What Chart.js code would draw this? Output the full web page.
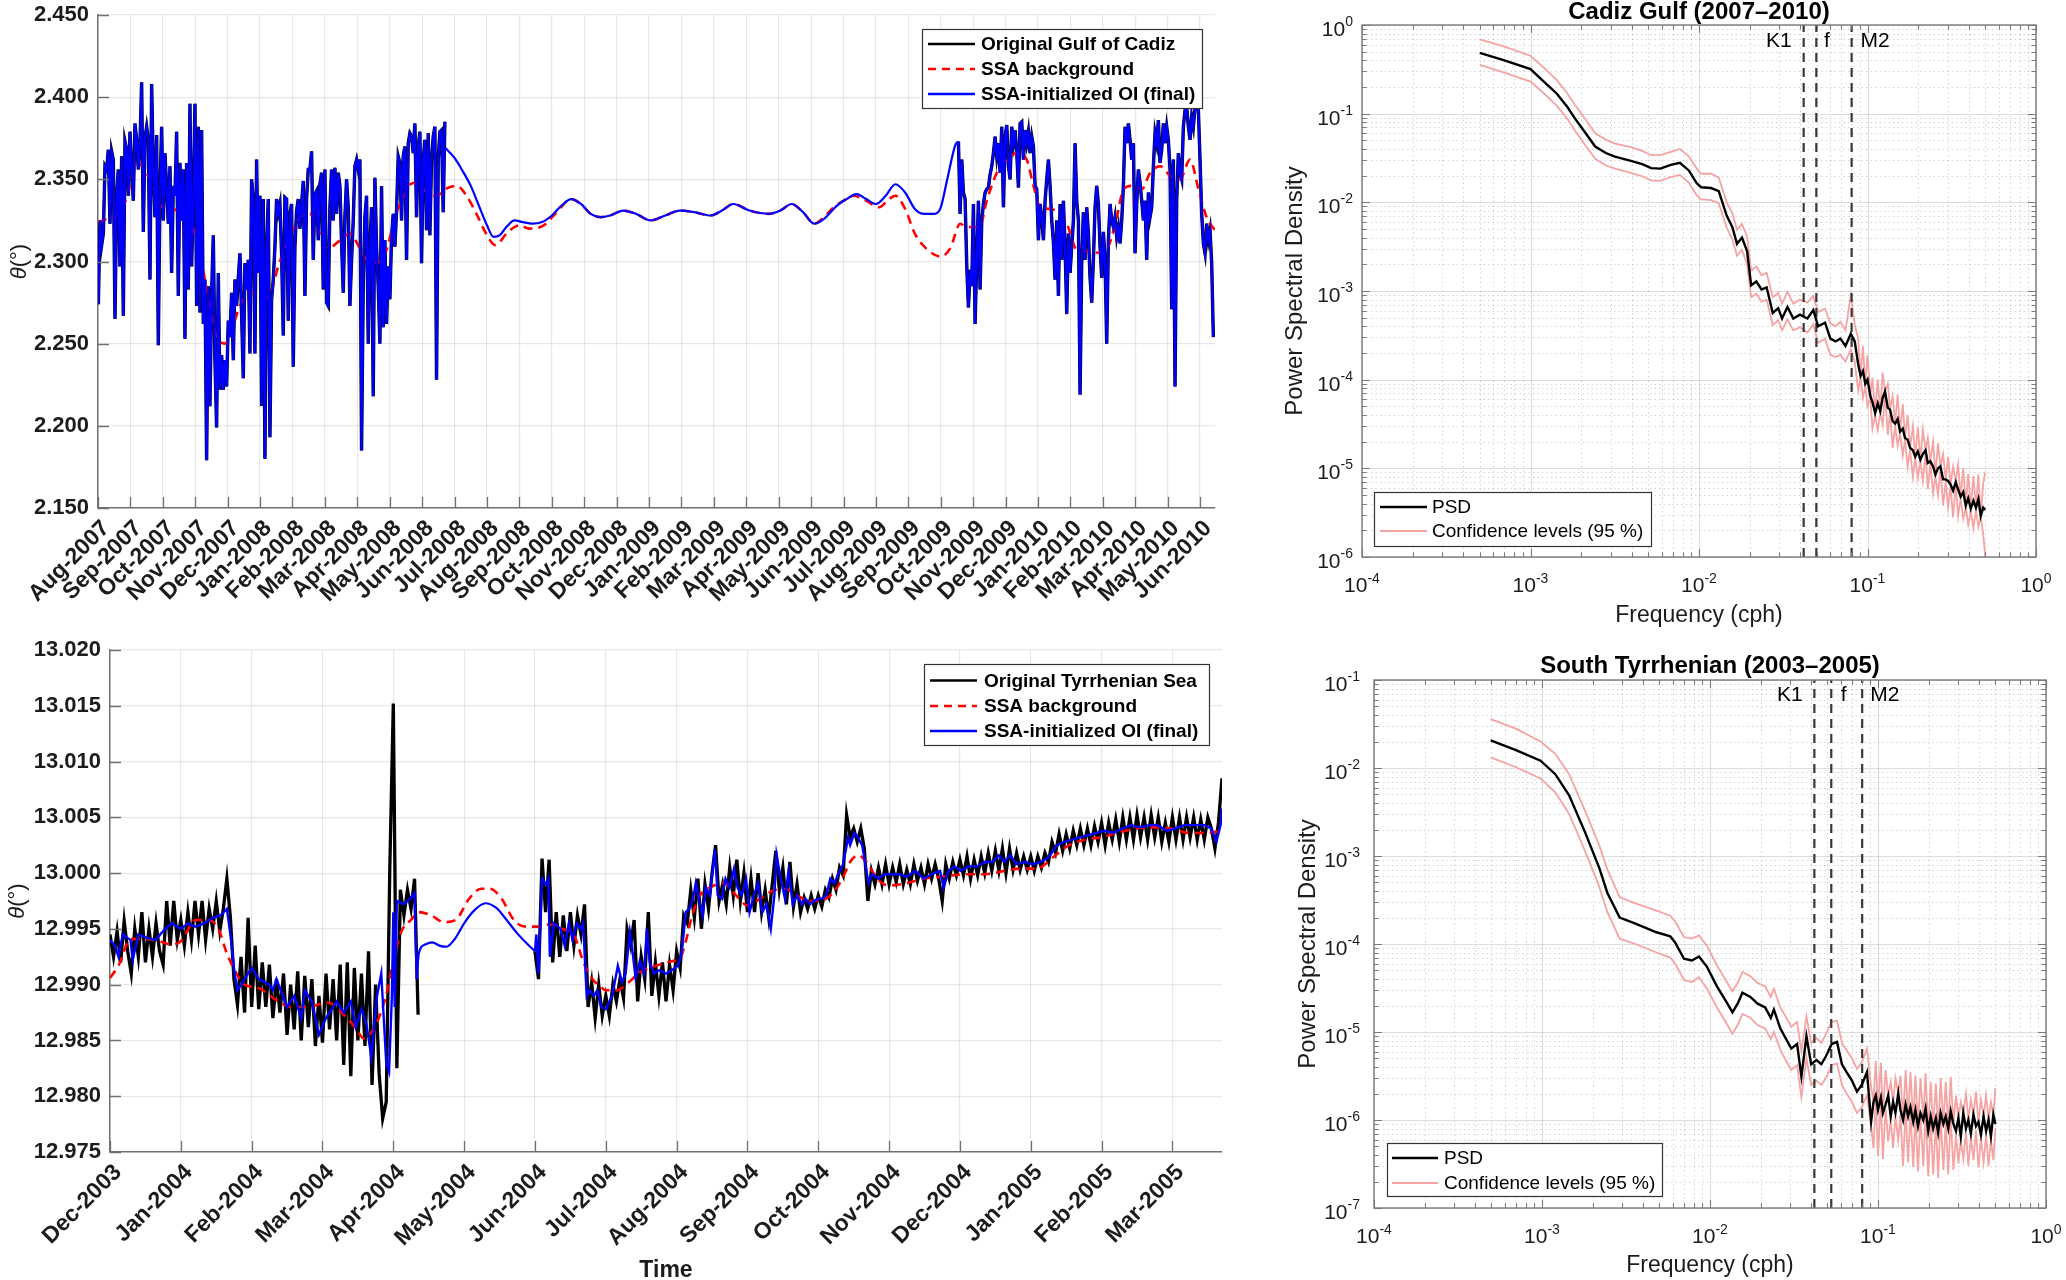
<!DOCTYPE html>
<html><head><meta charset="utf-8">
<script src="https://cdn.jsdelivr.net/npm/chart.js@4.4.1/dist/chart.umd.min.js"></script>
<style>
html,body{margin:0;padding:0;background:#fff;}
body{width:2066px;height:1280px;position:relative;overflow:hidden;}
canvas{position:absolute;}
</style></head><body>
<canvas id="cA" width="1250" height="640" style="left:0;top:0;width:1250px;height:640px"></canvas>
<canvas id="cB" width="1250" height="640" style="left:0;top:640px;width:1250px;height:640px"></canvas>
<canvas id="cC" width="816" height="640" style="left:1250px;top:0;width:816px;height:640px"></canvas>
<canvas id="cD" width="816" height="640" style="left:1250px;top:640px;width:816px;height:640px"></canvas>
<script>
// ---------------- DATA ----------------
// Gulf of Cadiz time series (x in months since Aug-2007)
const cadizMonths = ['Aug-2007','Sep-2007','Oct-2007','Nov-2007','Dec-2007','Jan-2008','Feb-2008','Mar-2008','Apr-2008','May-2008','Jun-2008','Jul-2008','Aug-2008','Sep-2008','Oct-2008','Nov-2008','Dec-2008','Jan-2009','Feb-2009','Mar-2009','Apr-2009','May-2009','Jun-2009','Jul-2009','Aug-2009','Sep-2009','Oct-2009','Nov-2009','Dec-2009','Jan-2010','Feb-2010','Mar-2010','Apr-2010','May-2010','Jun-2010'];
const cadizYTicks = [2.15, 2.20, 2.25, 2.30, 2.35, 2.40, 2.45];
const cadizStep = 0.0514;
const cadizObs1Start = 0.01;
const cadizObs1 = [
2.274,2.325,2.310,2.317,2.358,2.356,2.368,2.323,2.367,2.362,
2.265,2.340,2.356,2.297,2.364,2.267,2.373,2.368,2.340,2.379,
2.356,2.337,2.384,2.374,2.356,2.372,2.409,2.318,2.375,2.382,
2.374,2.289,2.408,2.356,2.327,2.377,2.249,2.342,2.382,2.325,
2.366,2.345,2.323,2.358,2.293,2.346,2.340,2.379,2.279,2.360,
2.325,2.356,2.253,2.360,2.283,2.396,2.297,2.338,2.396,2.273,
2.382,2.269,2.380,2.262,2.289,2.179,2.285,2.212,2.280,2.316,
2.240,2.199,2.293,2.222,2.243,2.222,2.240,2.224,2.264,2.254,
2.281,2.240,2.289,2.273,2.290,2.305,2.268,2.229,2.299,2.283,
2.301,2.244,2.350,2.338,2.244,2.362,2.293,2.340,2.212,2.338,
2.180,2.309,2.338,2.193,2.277,2.289,2.309,2.338,2.330,
2.335,2.305,2.255,2.339,2.338,2.264,2.329,2.335,2.236,2.309,
2.331,2.338,2.320,2.335,2.349,2.279,2.338,2.356,2.356,2.367,
2.301,2.341,2.343,2.313,2.347,2.354,2.283,2.356,2.275,2.273,
2.333,2.356,2.325,2.357,2.329,2.354,2.346,2.311,2.281,2.327,
2.350,2.333,2.273,2.301,2.325,2.358,2.362,2.356,2.362,2.185,
2.285,2.327,2.340,2.250,2.309,2.333,2.218,2.351,2.309,2.285,
2.250,2.346,2.260,2.313,2.262,2.297,2.277,2.315,2.329,2.309,
2.331,2.364,2.360,2.325,2.364,2.370,2.301,2.372,2.378,2.376,
2.366,2.384,2.327,2.370,2.379,2.299,2.362,2.374,2.319,2.378,
2.316,2.362,2.376,2.382,2.228,2.362,2.379,2.380,2.330,2.385];
const cadizObs2Start = 26.545;
const cadizObs2 = [
2.373,2.329,2.362,2.342,2.338,2.297,2.272,2.295,2.285,2.335,
2.262,2.301,2.337,2.283,2.325,2.335,2.342,2.344,2.345,2.353,
2.358,2.366,2.376,2.364,2.372,2.354,2.382,2.333,2.376,2.383,
2.358,2.350,2.382,2.372,2.380,2.366,2.345,2.384,2.385,2.362,
2.380,2.372,2.379,2.366,2.376,2.370,2.346,2.344,2.313,2.335,
2.327,2.313,2.337,2.350,2.362,2.346,2.325,2.312,2.289,2.325,
2.279,2.335,2.301,2.337,2.309,2.268,2.317,2.293,2.309,2.325,
2.372,2.337,2.325,2.219,2.300,2.330,2.301,2.333,2.317,2.290,
2.275,2.301,2.333,2.346,2.335,2.309,2.290,2.318,2.301,2.250,
2.313,2.335,2.325,2.321,2.327,2.315,2.321,2.311,2.325,2.346,
2.382,2.372,2.384,2.374,2.362,2.372,2.305,2.335,2.356,2.348,
2.337,2.325,2.337,2.301,2.342,2.327,2.333,2.358,2.378,2.372,
2.386,2.360,2.368,2.384,2.372,2.382,2.374,2.356,2.271,2.362,
2.224,2.337,2.366,2.354,2.350,2.382,2.392,2.394,2.382,2.374,
2.388,2.382,2.394,2.393,2.392,2.362,2.329,2.311,2.305,2.323,
2.313,2.319,2.299,2.254];
const cadizGapT = [10.72,11.0,11.25,11.5,11.75,12.0,12.2,12.4,12.6,12.85,13.1,13.4,13.7,14.0,14.3,14.6,14.9,15.2,15.5,15.8,16.2,16.6,17.05,17.5,17.95,18.4,18.9,19.25,19.6,20.1,20.7,21.05,21.4,21.75,22.1,22.4,22.8,23.1,23.4,23.7,24.0,24.3,24.6,24.9,25.2,25.5,25.8,26.0,26.2,26.45,26.545];
const cadizGapV = [2.369,2.363,2.355,2.346,2.334,2.322,2.315,2.316,2.321,2.325,2.324,2.323,2.324,2.328,2.334,2.338,2.335,2.329,2.327,2.328,2.331,2.329,2.325,2.328,2.331,2.330,2.328,2.331,2.335,2.331,2.329,2.331,2.335,2.330,2.323,2.326,2.334,2.338,2.341,2.338,2.335,2.340,2.347,2.342,2.332,2.329,2.329,2.333,2.350,2.371,2.373];
const cadizBgT = [0,0.3,0.6,0.9,1.1,1.3,1.6,2.0,2.5,2.94,3.2,3.35,3.64,3.92,4.07,4.38,4.74,5.05,5.31,5.56,5.8,5.95,6.25,6.54,6.8,7.1,7.47,7.77,8.08,8.29,8.6,8.9,9.16,9.37,9.63,9.88,10.14,10.45,10.71,11.07,11.4,11.7,12.0,12.25,12.65,13.0,13.3,13.75,14.15,14.6,14.9,15.2,15.5,15.8,16.2,16.6,17.05,17.5,17.95,18.4,18.9,19.25,19.6,20.1,20.7,21.05,21.4,21.75,22.1,22.4,22.7,23.0,23.3,23.7,24.1,24.35,24.6,24.9,25.2,25.6,26.0,26.29,26.6,26.8,27.2,27.42,27.73,28.04,28.35,28.65,28.86,29.07,29.37,29.68,29.89,30.2,30.6,30.97,31.17,31.43,31.64,31.89,32.2,32.46,32.77,33.08,33.38,33.69,33.95,34.2,34.46];
const cadizBgV = [2.324,2.326,2.328,2.340,2.355,2.359,2.350,2.333,2.331,2.320,2.300,2.283,2.256,2.250,2.255,2.273,2.281,2.277,2.280,2.297,2.310,2.317,2.327,2.329,2.319,2.308,2.313,2.317,2.308,2.301,2.299,2.307,2.327,2.337,2.347,2.348,2.342,2.340,2.344,2.346,2.339,2.328,2.316,2.310,2.318,2.322,2.320,2.322,2.330,2.338,2.335,2.329,2.327,2.328,2.331,2.329,2.325,2.328,2.331,2.330,2.328,2.331,2.335,2.331,2.329,2.331,2.335,2.330,2.323,2.327,2.333,2.337,2.340,2.337,2.333,2.337,2.340,2.332,2.317,2.307,2.303,2.308,2.323,2.321,2.321,2.337,2.354,2.362,2.366,2.362,2.346,2.333,2.332,2.329,2.323,2.307,2.306,2.305,2.309,2.327,2.344,2.346,2.344,2.354,2.358,2.352,2.350,2.362,2.344,2.327,2.319];

// Tyrrhenian Sea time series (x in months since Dec-2003)
const tyrMonths = ['Dec-2003','Jan-2004','Feb-2004','Mar-2004','Apr-2004','May-2004','Jun-2004','Jul-2004','Aug-2004','Sep-2004','Oct-2004','Nov-2004','Dec-2004','Jan-2005','Feb-2005','Mar-2005'];
const tyrYTicks = [12.975,12.980,12.985,12.990,12.995,13.000,13.005,13.010,13.015,13.020];
const tyrStep = 0.05;
const tyrObs1Start = 0.0;
const tyrObs1 = [
12.9945,12.9925,12.9948,12.9920,12.9957,12.9930,12.9910,12.9950,12.9925,12.9965,
12.9920,12.9950,12.9925,12.9955,12.9930,12.9918,12.9975,12.9935,12.9975,12.9940,
12.9958,12.9935,12.9965,12.9940,12.9975,12.9945,12.9975,12.9940,12.9968,12.9950,
12.9975,12.9948,12.9968,12.9995,12.9960,12.9905,12.9882,12.9925,12.9875,12.9960,
12.9880,12.9935,12.9878,12.9920,12.9880,12.9918,12.9870,12.9905,12.9875,12.9910,
12.9855,12.9900,12.9860,12.9912,12.9850,12.9908,12.9862,12.9905,12.9845,12.9890,
12.9848,12.9910,12.9860,12.9905,12.9850,12.9918,12.9828,12.9920,12.9818,12.9915,
12.9850,12.9910,12.9845,12.9930,12.9810,12.9900,12.9820,12.9780,12.9795,13.0003,
13.0152,12.9825,12.9985,12.9962,12.9985,12.9968,12.9995,12.9873];
const tyrObs2Start = 6.0;
const tyrObs2 = [
12.9930,12.9905,13.0013,12.9965,13.0012,12.9920,12.9965,12.9925,12.9962,12.9930,
12.9965,12.9935,12.9962,12.9945,12.9972,12.9880,12.9902,12.9870,12.9900,12.9872,
12.9890,12.9872,12.9900,12.9885,12.9905,12.9888,12.9950,12.9935,12.9958,12.9885,
12.9925,12.9905,12.9965,12.9890,12.9920,12.9890,12.9920,12.9885,12.9918,12.9895,
12.9930,12.9915,12.9962,12.9955,12.9985,12.9960,12.9995,12.9950,12.9990,12.9968,
13.0000,13.0025,12.9975,12.9990,12.9972,13.0005,12.9980,13.0012,12.9975,13.0000,
12.9965,12.9995,12.9965,13.0000,12.9965,12.9985,12.9960,12.9990,13.0020,12.9985,
13.0005,12.9972,13.0010,12.9970,12.9990,12.9965,12.9978,12.9968,12.9980,12.9968,
12.9980,12.9970,12.9985,12.9978,12.9995,12.9985,13.0005,12.9998,13.0052,13.0032,
13.0040,13.0028,13.0040,13.0022,12.9975,13.0002,12.9990,13.0005,12.9990,13.0008,
12.9990,13.0005,12.9992,13.0008,12.9990,13.0003,12.9990,13.0008,12.9993,13.0005,
12.9990,13.0008,12.9995,13.0008,12.9995,12.9975,13.0008,12.9995,13.0010,12.9998,
13.0012,12.9998,13.0015,12.9995,13.0012,12.9998,13.0015,13.0000,13.0018,13.0002,
13.0020,13.0002,13.0022,13.0000,13.0022,13.0003,13.0018,13.0003,13.0015,13.0003,
13.0015,13.0002,13.0015,13.0005,13.0018,13.0010,13.0028,13.0018,13.0035,13.0020,
13.0035,13.0022,13.0038,13.0025,13.0040,13.0025,13.0040,13.0025,13.0042,13.0028,
13.0045,13.0025,13.0045,13.0030,13.0048,13.0028,13.0050,13.0030,13.0050,13.0030,
13.0052,13.0032,13.0050,13.0030,13.0052,13.0032,13.0050,13.0028,13.0045,13.0028,
13.0050,13.0030,13.0050,13.0030,13.0050,13.0032,13.0050,13.0030,13.0048,13.0030,
13.0050,13.0040,13.0022,13.0045,13.0085];
const tyrOI1T = [0.00,0.07,0.12,0.18,0.29,0.32,0.40,0.52,0.64,0.75,0.87,1.00,1.10,1.20,1.33,1.45,1.56,1.65,1.70,1.76,1.80,1.90,2.00,2.10,2.25,2.30,2.35,2.50,2.60,2.70,2.75,2.85,2.95,3.05,3.20,3.30,3.40,3.47,3.55,3.62,3.69,3.77,3.83,3.90,3.94,3.98,4.00,4.02,4.05,4.15,4.22,4.30,4.33];
const tyrOI1V = [12.9940,12.9935,12.9925,12.9945,12.9940,12.9922,12.9945,12.9942,12.9940,12.9948,12.9955,12.9950,12.9955,12.9952,12.9955,12.9960,12.9962,12.9968,12.9945,12.9910,12.9895,12.9905,12.9915,12.9905,12.9900,12.9895,12.9905,12.9880,12.9890,12.9870,12.9895,12.9885,12.9855,12.9870,12.9885,12.9875,12.9885,12.9862,12.9878,12.9865,12.9835,12.9890,12.9910,12.9830,12.9822,12.9890,12.9965,12.9880,12.9975,12.9972,12.9976,12.9982,12.9905];
const tyrGapT = [4.33,4.36,4.45,4.55,4.65,4.75,4.88,5.00,5.15,5.30,5.45,5.60,5.75,5.90,6.00];
const tyrGapV = [12.9905,12.9928,12.9936,12.9938,12.9935,12.9934,12.9942,12.9955,12.9967,12.9973,12.9969,12.9958,12.9946,12.9936,12.9930];
const tyrOI2T = [6.00,6.02,6.05,6.10,6.16,6.19,6.21,6.27,6.36,6.42,6.48,6.53,6.59,6.65,6.68,6.73,6.77,6.83,6.88,6.94,7.00,7.09,7.17,7.23,7.28,7.34,7.38,7.42,7.48,7.54,7.58,7.62,7.68,7.76,7.85,7.93,8.02,8.07,8.13,8.19,8.24,8.27,8.33,8.37,8.41,8.47,8.54,8.58,8.64,8.69,8.75,8.81,8.86,8.92,8.98,9.03,9.09,9.15,9.21,9.27,9.33,9.38,9.41,9.47,9.53,9.58,9.64,9.70,9.77,9.82,9.88,9.94,10.00,10.06,10.11,10.17,10.23,10.28,10.34,10.39,10.42,10.45,10.51,10.56,10.62,10.68,10.71,10.76,10.85,10.93,11.02,11.13,11.25,11.37,11.49,11.60,11.72,11.77,11.84,11.92,12.01,12.12,12.24,12.35,12.46,12.55,12.63,12.71,12.80,12.92,13.03,13.14,13.25,13.37,13.48,13.59,13.70,13.81,13.93,14.04,14.17,14.29,14.42,14.54,14.67,14.79,14.92,15.04,15.17,15.29,15.45,15.55,15.62,15.68,15.70];
const tyrOI2V = [12.9930,12.9945,12.9910,12.9995,12.9990,12.9995,12.9925,12.9955,12.9950,12.9935,12.9955,12.9940,12.9955,12.9950,12.9955,12.9890,12.9895,12.9890,12.9895,12.9880,12.9878,12.9890,12.9917,12.9902,12.9910,12.9947,12.9928,12.9906,12.9921,12.9910,12.9950,12.9920,12.9910,12.9913,12.9910,12.9913,12.9917,12.9928,12.9965,12.9969,12.9980,12.9991,12.9972,12.9962,12.9987,12.9980,13.0021,12.9980,12.9977,12.9995,12.9987,13.0004,12.9987,12.9980,12.9995,12.9965,12.9980,12.9991,12.9965,12.9972,12.9950,12.9980,13.0017,12.9995,12.9977,13.0002,12.9972,12.9980,12.9972,12.9977,12.9972,12.9975,12.9977,12.9977,12.9980,12.9995,12.9991,12.9999,13.0006,13.0021,13.0032,13.0025,13.0036,13.0032,13.0025,13.0002,12.9991,12.9999,12.9995,12.9999,12.9999,12.9999,12.9997,13.0002,12.9995,12.9999,13.0002,12.9987,13.0002,13.0006,13.0002,13.0006,13.0006,13.0010,13.0010,13.0016,13.0010,13.0016,13.0008,13.0010,13.0008,13.0010,13.0014,13.0025,13.0028,13.0030,13.0032,13.0034,13.0036,13.0038,13.0036,13.0040,13.0043,13.0041,13.0043,13.0043,13.0038,13.0040,13.0043,13.0043,13.0043,13.0040,13.0028,13.0043,13.0058];
const tyrBgT = [0.00,0.12,0.29,0.46,0.69,0.87,1.00,1.21,1.39,1.53,1.65,1.76,1.90,2.10,2.33,2.56,2.79,3.07,3.30,3.47,3.58,3.76,3.90,4.00,4.11,4.25,4.36,4.54,4.71,4.88,5.07,5.24,5.36,5.53,5.70,5.87,6.04,6.21,6.39,6.56,6.68,6.80,6.91,7.00,7.15,7.32,7.48,7.71,7.93,8.05,8.13,8.22,8.33,8.50,8.67,8.84,9.00,9.18,9.35,9.53,9.70,9.88,10.00,10.17,10.34,10.45,10.56,10.68,10.79,10.90,11.02,11.25,11.49,11.78,12.07,12.35,12.63,12.86,13.09,13.31,13.54,13.76,13.98,14.22,14.48,14.73,14.98,15.23,15.48,15.70];
const tyrBgV = [12.9906,12.9917,12.9941,12.9941,12.9939,12.9936,12.9939,12.9958,12.9958,12.9950,12.9928,12.9913,12.9900,12.9897,12.9887,12.9880,12.9880,12.9884,12.9873,12.9861,12.9852,12.9865,12.9891,12.9921,12.9947,12.9958,12.9965,12.9962,12.9956,12.9958,12.9977,12.9986,12.9986,12.9977,12.9958,12.9952,12.9952,12.9954,12.9950,12.9943,12.9921,12.9906,12.9899,12.9895,12.9895,12.9902,12.9911,12.9917,12.9921,12.9924,12.9939,12.9962,12.9980,12.9988,12.9991,12.9980,12.9971,12.9977,12.9984,12.9986,12.9980,12.9975,12.9975,12.9980,12.9995,13.0010,13.0016,13.0010,12.9999,12.9991,12.9989,12.9991,12.9995,12.9997,12.9999,12.9999,13.0002,13.0004,13.0004,13.0014,13.0025,13.0030,13.0032,13.0036,13.0040,13.0041,13.0040,13.0036,13.0036,13.0038];

// Spectra (frequency in cph)
const cadizFreq = [5e-4,7e-4,1e-3,1.2e-3,1.43e-3,1.65e-3,1.83e-3,2.1e-3,2.42e-3,2.8e-3,3.17e-3,3.94e-3,4.6e-3,5.2e-3,5.9e-3,6.8e-3,7.7e-3,8.7e-3,9.7e-3,1.03e-2,1.18e-2,1.31e-2,1.46e-2,1.58e-2,1.68e-2,1.8e-2,1.93e-2,2.04e-2,2.19e-2,2.35e-2,2.52e-2,2.74e-2,2.95e-2,3.11e-2,3.35e-2,3.63e-2,3.97e-2,4.4e-2,4.77e-2,5.09e-2,5.6e-2,6.02e-2,6.46e-2,6.9e-2,7.4e-2,7.96e-2,8.4e-2,
0.088,0.091,0.094,0.097,0.100,0.104,0.107,0.111,0.115,0.119,0.123,0.127,0.132,0.136,0.141,0.146,0.151,0.156,0.162,0.167,0.173,0.179,0.186,0.192,0.199,0.206,0.213,0.221,0.228,0.236,0.245,0.253,0.262,0.271,0.281,0.291,0.301,0.311,0.322,0.334,0.345,0.357,0.370,0.383,0.396,0.410,0.425,0.440,0.455,0.470,0.486,0.500];
const cadizPsd = [0.486,0.40,0.318,0.23,0.169,0.12,0.089,0.062,0.0426,0.036,0.0327,0.0294,0.027,0.0243,0.0240,0.0264,0.0279,0.0229,0.0164,0.0148,0.0145,0.0134,0.0071,0.0052,0.0034,0.0040,0.0028,0.00116,0.00128,0.00104,0.0011,0.000565,0.00064,0.00049,0.00066,0.00049,0.00054,0.00049,0.00061,0.00040,0.00044,0.00029,0.00027,0.00029,0.00024,0.00033,0.00027,
1.5e-4,1.1e-4,1.25e-4,9.0e-5,1.0e-4,6.5e-5,5.6e-5,4.2e-5,5.4e-5,4.4e-5,6.2e-5,7.4e-5,4.8e-5,4.6e-5,3.4e-5,3.2e-5,3.6e-5,2.6e-5,2.8e-5,2.2e-5,2.1e-5,1.7e-5,1.6e-5,1.35e-5,1.55e-5,1.25e-5,1.45e-5,1.6e-5,1.15e-5,1.2e-5,1.05e-5,8.5e-6,1.0e-5,1.05e-5,7.5e-6,7.5e-6,7.2e-6,6.6e-6,5.6e-6,7.0e-6,5.8e-6,4.8e-6,5.4e-6,3.8e-6,4.6e-6,3.5e-6,4.3e-6,3.6e-6,4.5e-6,2.9e-6,3.6e-6,3.4e-6];
const cadizUpper = [0.69,0.57,0.45,0.33,0.24,0.17,0.127,0.088,0.060,0.051,0.046,0.042,0.038,0.034,0.034,0.037,0.040,0.033,0.024,0.021,0.021,0.019,0.010,0.0075,0.0049,0.0057,0.0041,0.0017,0.0019,0.0015,0.0016,0.00085,0.00095,0.00072,0.00098,0.00072,0.0008,0.00074,0.00088,0.00058,0.00063,0.00043,0.00040,0.00045,0.00036,0.0009,0.00042,
2.9e-4,1.1e-4,2.4e-4,9.0e-5,1.9e-4,6.5e-5,1.05e-4,4.2e-5,1.0e-4,4.4e-5,1.2e-4,7.4e-5,9.0e-5,4.6e-5,6.5e-5,3.2e-5,6.8e-5,2.6e-5,5.3e-5,2.2e-5,4.0e-5,1.7e-5,3.0e-5,1.35e-5,2.9e-5,1.25e-5,2.75e-5,1.6e-5,2.2e-5,1.2e-5,2.0e-5,8.5e-6,1.9e-5,1.05e-5,1.45e-5,7.5e-6,1.35e-5,6.6e-6,1.05e-5,7.0e-6,1.1e-5,4.8e-6,1.0e-5,3.8e-6,8.7e-6,3.5e-6,8.2e-6,3.6e-6,8.5e-6,2.9e-6,6.8e-6,9.0e-6];
const cadizLower = [0.355,0.29,0.23,0.17,0.123,0.088,0.065,0.045,0.031,0.026,0.024,0.0215,0.0197,0.0177,0.0175,0.0193,0.0204,0.0167,0.012,0.0108,0.0106,0.0098,0.0052,0.0038,0.0025,0.0029,0.0020,0.00085,0.00093,0.00076,0.0008,0.00041,0.00047,0.00036,0.00048,0.00036,0.00039,0.00034,0.00042,0.00026,0.00029,0.00019,0.00018,0.00019,0.00016,0.00022,0.00016,
7.5e-5,1.05e-4,6.2e-5,8.5e-5,5.0e-5,6.2e-5,2.8e-5,4.0e-5,2.7e-5,4.2e-5,3.1e-5,7.0e-5,2.4e-5,4.4e-5,1.7e-5,3.0e-5,1.8e-5,2.5e-5,1.4e-5,2.1e-5,1.05e-5,1.6e-5,8.0e-6,1.3e-5,7.8e-6,1.2e-5,7.2e-6,1.5e-5,5.8e-6,1.15e-5,5.2e-6,8.0e-6,5.0e-6,1.0e-5,3.8e-6,7.1e-6,3.6e-6,6.3e-6,2.8e-6,6.6e-6,2.9e-6,4.6e-6,2.7e-6,3.6e-6,2.3e-6,3.3e-6,2.1e-6,3.4e-6,2.2e-6,2.8e-6,1.8e-6,1.0e-6];
const cadizLines = [0.0418, 0.0497, 0.0805];
const cadizLineNames = ['K1', 'f', 'M2'];
const cadizNameFreq = [0.0298, 0.0575, 0.111];
const cadizNameLevel = 0.66;

const tyrFreq = [4.95e-4,7e-4,9.8e-4,1.2e-3,1.45e-3,1.8e-3,2.2e-3,2.45e-3,2.9e-3,3.6e-3,4.8e-3,5.8e-3,6.2e-3,7e-3,7.8e-3,8.6e-3,9.6e-3,1.1e-2,1.27e-2,1.36e-2,1.46e-2,1.56e-2,1.74e-2,1.92e-2,2.13e-2,2.3e-2,2.4e-2,2.62e-2,2.82e-2,3.05e-2,3.3e-2,3.5e-2,3.75e-2,4.0e-2,4.3e-2,4.6e-2,4.9e-2,5.3e-2,5.7e-2,6.1e-2,6.5e-2,7e-2,7.5e-2,8e-2,8.6e-2,
0.091,0.094,0.097,0.100,0.104,0.107,0.111,0.115,0.119,0.123,0.127,0.132,0.136,0.141,0.146,0.151,0.156,0.162,0.167,0.173,0.179,0.186,0.192,0.199,0.206,0.213,0.221,0.228,0.236,0.245,0.253,0.262,0.271,0.281,0.291,0.301,0.311,0.322,0.334,0.345,0.357,0.370,0.383,0.396,0.410,0.425,0.440,0.455,0.470,0.486,0.500];
const tyrPsd = [0.0206,0.016,0.0121,0.0085,0.0049,0.00188,0.00072,0.00038,0.0002,0.00017,0.000136,0.000122,0.000104,6.8e-5,6.5e-5,7.2e-5,5.5e-5,3.3e-5,2.1e-5,1.67e-5,2.1e-5,2.8e-5,2.5e-5,2.1e-5,1.9e-5,1.45e-5,1.8e-5,1.1e-5,8.5e-6,6.5e-6,7.3e-6,3.1e-6,9e-6,4.3e-6,4.8e-6,4.3e-6,5.3e-6,7.3e-6,7.7e-6,4.3e-6,3.5e-6,2.8e-6,2.1e-6,2.5e-6,3.5e-6,
9.6e-7,1.6e-6,1.9e-6,1.3e-6,1.8e-6,1.2e-6,1.5e-6,1.9e-6,1.1e-6,1.6e-6,1.2e-6,2.0e-6,1.3e-6,1.0e-6,1.5e-6,1.1e-6,1.4e-6,9.5e-7,1.3e-6,8.5e-7,1.2e-6,1.0e-6,1.35e-6,7.5e-7,1.1e-6,8.0e-7,1.05e-6,7.2e-7,1.2e-6,9.0e-7,1.1e-6,8.0e-7,1.25e-6,9.0e-7,7.5e-7,1.05e-6,6.5e-7,1.2e-6,8.0e-7,1.0e-6,7.0e-7,1.15e-6,8.5e-7,9.5e-7,6.8e-7,1.1e-6,7.5e-7,1.0e-6,6.5e-7,1.15e-6,9.0e-7];
const tyrUpper = [0.036,0.028,0.020,0.0145,0.0085,0.0033,0.0013,0.0007,0.00034,0.00029,0.00024,0.00021,0.00018,0.00012,0.000115,0.000125,9.5e-5,5.7e-5,3.6e-5,2.9e-5,3.6e-5,4.8e-5,4.3e-5,3.6e-5,3.3e-5,2.5e-5,3.1e-5,1.9e-5,1.5e-5,1.15e-5,1.3e-5,6e-6,1.5e-5,7.5e-6,8.5e-6,7.5e-6,9.5e-6,1.3e-5,1.35e-5,7.5e-6,6.2e-6,5e-6,3.8e-6,4.5e-6,6.5e-6,
2.4e-6,1.6e-6,4.7e-6,1.3e-6,4.5e-6,1.2e-6,3.7e-6,1.9e-6,2.7e-6,1.6e-6,3.0e-6,2.0e-6,3.2e-6,1.0e-6,3.7e-6,1.1e-6,3.5e-6,9.5e-7,3.2e-6,8.5e-7,3.0e-6,1.0e-6,3.4e-6,7.5e-7,2.7e-6,8.0e-7,2.6e-6,7.2e-7,3.0e-6,9.0e-7,2.7e-6,8.0e-7,3.1e-6,9.0e-7,1.9e-6,1.05e-6,1.6e-6,1.2e-6,2.0e-6,1.0e-6,1.7e-6,1.15e-6,2.1e-6,9.5e-7,1.7e-6,1.1e-6,1.9e-6,1.0e-6,1.6e-6,1.15e-6,2.3e-6];
const tyrLower = [0.0132,0.0102,0.0076,0.0053,0.003,0.00115,0.00044,0.00023,0.000115,0.0001,8e-5,7e-5,6e-5,3.9e-5,3.7e-5,4.2e-5,3.1e-5,1.9e-5,1.2e-5,9.5e-6,1.2e-5,1.6e-5,1.45e-5,1.2e-5,1.1e-5,8.3e-6,1.0e-5,6.3e-6,4.8e-6,3.7e-6,4.2e-6,1.8e-6,5.1e-6,2.5e-6,2.8e-6,2.5e-6,3.0e-6,4.2e-6,4.4e-6,2.5e-6,2.0e-6,1.6e-6,1.2e-6,1.4e-6,1.9e-6,
8.6e-7,4.8e-7,1.7e-6,3.9e-7,1.6e-6,3.6e-7,1.35e-6,5.7e-7,1.0e-6,4.8e-7,1.1e-6,6.0e-7,1.15e-6,3.0e-7,1.35e-6,3.3e-7,1.25e-6,2.9e-7,1.15e-6,2.6e-7,1.1e-6,3.0e-7,1.2e-6,2.3e-7,1.0e-6,2.4e-7,9.5e-7,2.2e-7,1.1e-6,2.7e-7,1.0e-6,2.4e-7,1.1e-6,2.7e-7,6.8e-7,3.2e-7,5.9e-7,3.6e-7,7.2e-7,3.0e-7,6.3e-7,3.5e-7,7.7e-7,2.9e-7,6.1e-7,3.3e-7,6.8e-7,3.0e-7,5.9e-7,3.5e-7,8.1e-7];
const tyrLines = [0.0418, 0.0527, 0.0805];
const tyrLineNames = ['K1', 'f', 'M2'];
const tyrNameFreq = [0.0299, 0.0625, 0.110];
const tyrNameLevel = 0.0676;

// ---------------- STYLE / HELPERS ----------------
const FONT = "'Liberation Sans', Arial, Helvetica, sans-serif";
Chart.defaults.font.family = FONT;
const AXIS = '#707070', TXT = '#1c1c1c';
const BLUE = '#0000ff', RED = '#ff0000', PINK = '#f5a3a3';

function uniform(t0, dt, vals) { return vals.map((v, i) => ({x: t0 + i * dt, y: v})); }
function zipXY(ts, vs) { return ts.map((t, i) => ({x: t, y: vs[i]})); }

function drawLegend(ctx, L) {
  ctx.save();
  ctx.fillStyle = '#fff';
  ctx.fillRect(L.x0, L.y0, L.x1 - L.x0, L.y1 - L.y0);
  ctx.strokeStyle = '#333'; ctx.lineWidth = 1.2;
  ctx.strokeRect(L.x0 + 0.5, L.y0 + 0.5, L.x1 - L.x0, L.y1 - L.y0);
  ctx.font = (L.bold ? 'bold ' : '') + L.size + 'px ' + FONT;
  ctx.textBaseline = 'middle'; ctx.textAlign = 'left';
  L.rows.forEach(r => {
    ctx.strokeStyle = r.color; ctx.lineWidth = r.width; ctx.setLineDash(r.dash || []);
    ctx.beginPath(); ctx.moveTo(L.lx0, r.y); ctx.lineTo(L.lx1, r.y); ctx.stroke();
    ctx.setLineDash([]);
    ctx.fillStyle = '#000'; ctx.fillText(r.text, L.tx, r.y + 1);
  });
  ctx.restore();
}

function timeDecor(cfg) {
  return {
    id: 'timeDecor',
    afterDatasetsDraw(chart) {
      const ctx = chart.ctx, a = chart.chartArea, x = chart.scales.x, y = chart.scales.y;
      ctx.save();
      ctx.strokeStyle = AXIS; ctx.lineWidth = 1.3;
      ctx.beginPath();
      cfg.xLabels.forEach((_, i) => { const p = Math.round(x.getPixelForValue(i)) + 0.5; ctx.moveTo(p, a.bottom); ctx.lineTo(p, a.bottom - 11); });
      cfg.yTicks.forEach(v => { const p = Math.round(y.getPixelForValue(v)) + 0.5; ctx.moveTo(a.left, p); ctx.lineTo(a.left + 11, p); });
      ctx.stroke();
      ctx.restore();
      ctx.save();
      ctx.translate(cfg.yTitleX, (a.top + a.bottom) / 2);
      ctx.rotate(-Math.PI / 2);
      ctx.fillStyle = TXT; ctx.textBaseline = 'middle'; ctx.textAlign = 'left';
      const fI = 'italic 22px ' + FONT, fN = '22px ' + FONT;
      ctx.font = fI; const w1 = ctx.measureText('θ').width;
      ctx.font = fN; const w2 = ctx.measureText('(°)').width;
      ctx.font = fI; ctx.fillText('θ', -(w1 + w2) / 2, 0);
      ctx.font = fN; ctx.fillText('(°)', -(w1 + w2) / 2 + w1, 0);
      ctx.restore();
      if (cfg.xTitle) {
        ctx.save();
        ctx.fillStyle = TXT; ctx.font = 'bold 23px ' + FONT; ctx.textAlign = 'center'; ctx.textBaseline = 'middle';
        ctx.fillText(cfg.xTitle, (a.left + a.right) / 2, cfg.xTitleY);
        ctx.restore();
      }
      drawLegend(ctx, cfg.legend);
    }
  };
}

function timeChart(id, cfg) {
  return new Chart(document.getElementById(id), {
    type: 'line',
    data: {datasets: cfg.datasets},
    options: {
      responsive: false, animation: false, devicePixelRatio: 1, events: [],
      spanGaps: false,
      layout: {padding: {left: 0, right: cfg.padRight, top: cfg.padTop, bottom: 0}},
      elements: {point: {radius: 0}, line: {tension: 0}},
      scales: {
        x: {
          type: 'linear', min: 0, max: cfg.xMax,
          afterBuildTicks: s => { s.ticks = cfg.xLabels.map((_, i) => ({value: i})); },
          afterFit: s => { s.height = cfg.xHeight; s.paddingLeft = 0; s.paddingRight = 0; s.paddingTop = 0; s.paddingBottom = 0; },
          ticks: {autoSkip: false, minRotation: 45, maxRotation: 45, padding: cfg.xPad, labelOffset: cfg.xLabelOffset,
                  color: TXT, font: {family: FONT, size: 23, weight: 'bold'},
                  callback: v => cfg.xLabels[Math.round(v)]},
          grid: {color: 'rgba(0,0,0,0.09)', lineWidth: 1.2, drawTicks: false},
          border: {color: AXIS, width: 1.5}
        },
        y: {
          type: 'linear', min: cfg.yMin, max: cfg.yMax,
          afterBuildTicks: s => { s.ticks = cfg.yTicks.map(v => ({value: v})); },
          afterFit: s => { s.width = cfg.yWidth; s.paddingTop = 0; s.paddingBottom = 0; },
          ticks: {padding: 9, color: TXT, font: {family: FONT, size: 22, weight: 'bold'}, callback: v => Number(v).toFixed(3)},
          grid: {color: 'rgba(0,0,0,0.09)', lineWidth: 1.2, drawTicks: false},
          border: {color: AXIS, width: 1.5}
        }
      },
      plugins: {legend: {display: false}, tooltip: {enabled: false}, title: {display: false}}
    },
    plugins: [timeDecor(cfg)]
  });
}

function specDecor(cfg) {
  const decades = (lo, hi) => { const r = []; for (let e = Math.round(Math.log10(lo)); e <= Math.round(Math.log10(hi)); e++) r.push(e); return r; };
  const xe = decades(cfg.xMin, cfg.xMax), ye = decades(cfg.yMin, cfg.yMax);
  return {
    id: 'specDecor',
    beforeDatasetsDraw(chart) {
      const ctx = chart.ctx, a = chart.chartArea, x = chart.scales.x, y = chart.scales.y;
      ctx.save();
      ctx.lineWidth = 1;
      ctx.strokeStyle = 'rgba(0,0,0,0.17)'; ctx.setLineDash([1.5, 3]);
      ctx.beginPath();
      xe.slice(0, -1).forEach(e => { for (let m = 2; m <= 9; m++) { const p = Math.round(x.getPixelForValue(m * Math.pow(10, e))) + 0.5; ctx.moveTo(p, a.top); ctx.lineTo(p, a.bottom); } });
      ye.slice(0, -1).forEach(e => { for (let m = 2; m <= 9; m++) { const p = Math.round(y.getPixelForValue(m * Math.pow(10, e))) + 0.5; ctx.moveTo(a.left, p); ctx.lineTo(a.right, p); } });
      ctx.stroke();
      ctx.setLineDash([]);
      ctx.strokeStyle = 'rgba(0,0,0,0.13)';
      ctx.beginPath();
      xe.forEach(e => { const p = Math.round(x.getPixelForValue(Math.pow(10, e))) + 0.5; ctx.moveTo(p, a.top); ctx.lineTo(p, a.bottom); });
      ye.forEach(e => { const p = Math.round(y.getPixelForValue(Math.pow(10, e))) + 0.5; ctx.moveTo(a.left, p); ctx.lineTo(a.right, p); });
      ctx.stroke();
      ctx.restore();
    },
    afterDatasetsDraw(chart) {
      const ctx = chart.ctx, a = chart.chartArea, x = chart.scales.x, y = chart.scales.y;
      ctx.save();
      ctx.strokeStyle = '#7a7a7a'; ctx.lineWidth = 1.4;
      ctx.strokeRect(a.left, a.top, a.right - a.left, a.bottom - a.top);
      ctx.lineWidth = 1.1;
      ctx.beginPath();
      xe.forEach((e, k) => {
        for (let m = 1; m <= 9; m++) {
          if (k === xe.length - 1 && m > 1) break;
          const p = Math.round(x.getPixelForValue(m * Math.pow(10, e))) + 0.5, L = m === 1 ? 8 : 4.5;
          ctx.moveTo(p, a.bottom); ctx.lineTo(p, a.bottom - L); ctx.moveTo(p, a.top); ctx.lineTo(p, a.top + L);
        }
      });
      ye.forEach((e, k) => {
        for (let m = 1; m <= 9; m++) {
          if (k === ye.length - 1 && m > 1) break;
          const p = Math.round(y.getPixelForValue(m * Math.pow(10, e))) + 0.5, L = m === 1 ? 8 : 4.5;
          ctx.moveTo(a.left, p); ctx.lineTo(a.left + L, p); ctx.moveTo(a.right, p); ctx.lineTo(a.right - L, p);
        }
      });
      ctx.stroke();
      ctx.fillStyle = TXT; ctx.textAlign = 'left'; ctx.textBaseline = 'alphabetic';
      const fb = '21px ' + FONT, fs = '14px ' + FONT;
      const parts = e => { ctx.font = fb; const w1 = ctx.measureText('10').width; ctx.font = fs; const w2 = ctx.measureText(String(e)).width; return [w1, w2]; };
      xe.forEach(e => {
        const p = x.getPixelForValue(Math.pow(10, e)); const [w1, w2] = parts(e); const left = p - (w1 + w2) / 2;
        ctx.font = fb; ctx.fillText('10', left, a.bottom + 35);
        ctx.font = fs; ctx.fillText(String(e), left + w1, a.bottom + 26);
      });
      ye.forEach(e => {
        const p = y.getPixelForValue(Math.pow(10, e)); const [w1, w2] = parts(e); const left = a.left - cfg.yGap - (w1 + w2);
        ctx.font = fb; ctx.fillText('10', left, p + 11);
        ctx.font = fs; ctx.fillText(String(e), left + w1, p + 1);
      });
      ctx.textAlign = 'center';
      ctx.font = 'bold 24px ' + FONT; ctx.fillStyle = '#000';
      ctx.fillText(cfg.title, (a.left + a.right) / 2, cfg.titleY);
      ctx.font = '23px ' + FONT; ctx.fillStyle = TXT;
      ctx.fillText('Frequency (cph)', (a.left + a.right) / 2, cfg.xTitleY);
      ctx.save();
      ctx.translate(cfg.yTitleX, (a.top + a.bottom) / 2); ctx.rotate(-Math.PI / 2);
      ctx.textBaseline = 'middle'; ctx.font = '24px ' + FONT;
      ctx.fillText('Power Spectral Density', 0, 0);
      ctx.restore();
      ctx.font = '21px ' + FONT; ctx.fillStyle = '#000'; ctx.textBaseline = 'middle';
      cfg.names.forEach((n, i) => ctx.fillText(n, x.getPixelForValue(cfg.nameFreq[i]), y.getPixelForValue(cfg.nameLevel)));
      ctx.restore();
      drawLegend(ctx, cfg.legend);
    }
  };
}

function specChart(id, cfg) {
  const ds = [
    {data: zipXY(cfg.f, cfg.psd), borderColor: '#000', borderWidth: 2.4},
    ...cfg.lines.map(f => ({data: [{x: f, y: cfg.yMin}, {x: f, y: cfg.yMax}], borderColor: '#383838', borderWidth: 2.2, borderDash: [9, 6]})),
    {data: zipXY(cfg.f, cfg.up), borderColor: PINK, borderWidth: 1.8},
    {data: zipXY(cfg.f, cfg.lo), borderColor: PINK, borderWidth: 1.8}
  ];
  return new Chart(document.getElementById(id), {
    type: 'line',
    data: {datasets: ds},
    options: {
      responsive: false, animation: false, devicePixelRatio: 1, events: [],
      layout: {padding: {left: 0, right: cfg.padRight, top: cfg.padTop, bottom: 0}},
      elements: {point: {radius: 0}, line: {tension: 0}},
      scales: {
        x: {type: 'logarithmic', min: cfg.xMin, max: cfg.xMax, ticks: {display: false}, grid: {display: false}, border: {display: false},
            afterFit: s => { s.height = cfg.xHeight; s.paddingLeft = 0; s.paddingRight = 0; }},
        y: {type: 'logarithmic', min: cfg.yMin, max: cfg.yMax, ticks: {display: false}, grid: {display: false}, border: {display: false},
            afterFit: s => { s.width = cfg.yWidth; s.paddingTop = 0; s.paddingBottom = 0; }}
      },
      plugins: {legend: {display: false}, tooltip: {enabled: false}, title: {display: false}}
    },
    plugins: [specDecor(cfg)]
  });
}

// ---------------- CHART A: Gulf of Cadiz ----------------
const cadizBlack = [...uniform(cadizObs1Start, cadizStep, cadizObs1), {x: 18, y: null}, ...uniform(cadizObs2Start, cadizStep, cadizObs2)];
const cadizBlueObs = [...uniform(cadizObs1Start, cadizStep, cadizObs1), {x: 18, y: null}, ...uniform(cadizObs2Start, cadizStep, cadizObs2)];
timeChart('cA', {
  datasets: [
    {data: cadizBlueObs, borderColor: BLUE, borderWidth: 2.4},
    {data: zipXY(cadizGapT, cadizGapV), borderColor: BLUE, borderWidth: 2.2, cubicInterpolationMode: 'monotone'},
    {data: zipXY(cadizBgT, cadizBgV), borderColor: RED, borderWidth: 2.6, borderDash: [9, 6], cubicInterpolationMode: 'monotone'},
    {data: cadizBlack, borderColor: '#000', borderWidth: 3.4}
  ],
  xLabels: cadizMonths, xMax: 34.46, yMin: 2.15, yMax: 2.45, yTicks: cadizYTicks,
  padTop: 15, padRight: 35, yWidth: 98, xHeight: 132, xPad: 7, xLabelOffset: 8,
  yTitleX: 20,
  legend: {x0: 922, y0: 29, x1: 1202, y1: 108, lx0: 928, lx1: 975, tx: 981, size: 19, bold: true,
    rows: [
      {y: 44, text: 'Original Gulf of Cadiz', color: '#000', width: 2.5},
      {y: 69, text: 'SSA background', color: RED, width: 2.5, dash: [8, 6]},
      {y: 94, text: 'SSA-initialized OI (final)', color: BLUE, width: 2.5}
    ]}
});

// ---------------- CHART B: Tyrrhenian Sea ----------------
const tyrBlack = [...uniform(tyrObs1Start, tyrStep, tyrObs1), {x: 5.2, y: null}, ...uniform(tyrObs2Start, tyrStep, tyrObs2)];
const tyrBlueObs = [...zipXY(tyrOI1T, tyrOI1V), {x: 5.2, y: null}, ...zipXY(tyrOI2T, tyrOI2V)];
timeChart('cB', {
  datasets: [
    {data: tyrBlueObs, borderColor: BLUE, borderWidth: 2.4},
    {data: zipXY(tyrGapT, tyrGapV), borderColor: BLUE, borderWidth: 2.2, cubicInterpolationMode: 'monotone'},
    {data: zipXY(tyrBgT, tyrBgV), borderColor: RED, borderWidth: 2.6, borderDash: [9, 6], cubicInterpolationMode: 'monotone'},
    {data: tyrBlack, borderColor: '#000', borderWidth: 3.3}
  ],
  xLabels: tyrMonths, xMax: 15.7, yMin: 12.975, yMax: 13.020, yTicks: tyrYTicks,
  padTop: 10, padRight: 28, yWidth: 110, xHeight: 128, xPad: 7, xLabelOffset: 8,
  yTitleX: 18, xTitle: 'Time', xTitleY: 631,
  legend: {x0: 924, y0: 24, x1: 1209, y1: 105, lx0: 930, lx1: 977, tx: 984, size: 19, bold: true,
    rows: [
      {y: 40.5, text: 'Original Tyrrhenian Sea', color: '#000', width: 2.5},
      {y: 66, text: 'SSA background', color: RED, width: 2.5, dash: [8, 6]},
      {y: 91, text: 'SSA-initialized OI (final)', color: BLUE, width: 2.5}
    ]}
});

// ---------------- CHART C: Cadiz spectrum ----------------
specChart('cC', {
  f: cadizFreq, psd: cadizPsd, up: cadizUpper, lo: cadizLower, lines: cadizLines,
  names: cadizLineNames, nameFreq: cadizNameFreq, nameLevel: cadizNameLevel,
  xMin: 1e-4, xMax: 1, yMin: 1e-6, yMax: 1,
  padTop: 25, padRight: 30, yWidth: 112, xHeight: 83, yGap: 9,
  title: 'Cadiz Gulf (2007–2010)', titleY: 19, xTitleY: 622, yTitleX: 45,
  legend: {x0: 124, y0: 492, x1: 401, y1: 546, lx0: 130, lx1: 177, tx: 182, size: 19, bold: false,
    rows: [
      {y: 507, text: 'PSD', color: '#000', width: 2.4},
      {y: 531, text: 'Confidence levels (95 %)', color: PINK, width: 1.8}
    ]}
});

// ---------------- CHART D: Tyrrhenian spectrum ----------------
specChart('cD', {
  f: tyrFreq, psd: tyrPsd, up: tyrUpper, lo: tyrLower, lines: tyrLines,
  names: tyrLineNames, nameFreq: tyrNameFreq, nameLevel: tyrNameLevel,
  xMin: 1e-4, xMax: 1, yMin: 1e-7, yMax: 1e-1,
  padTop: 40, padRight: 20, yWidth: 124, xHeight: 72, yGap: 14,
  title: 'South Tyrrhenian (2003–2005)', titleY: 33, xTitleY: 632, yTitleX: 58,
  legend: {x0: 137, y0: 503, x1: 412, y1: 556, lx0: 142, lx1: 188, tx: 194, size: 19, bold: false,
    rows: [
      {y: 518, text: 'PSD', color: '#000', width: 2.4},
      {y: 543, text: 'Confidence levels (95 %)', color: PINK, width: 1.8}
    ]}
});
</script>
</body></html>
